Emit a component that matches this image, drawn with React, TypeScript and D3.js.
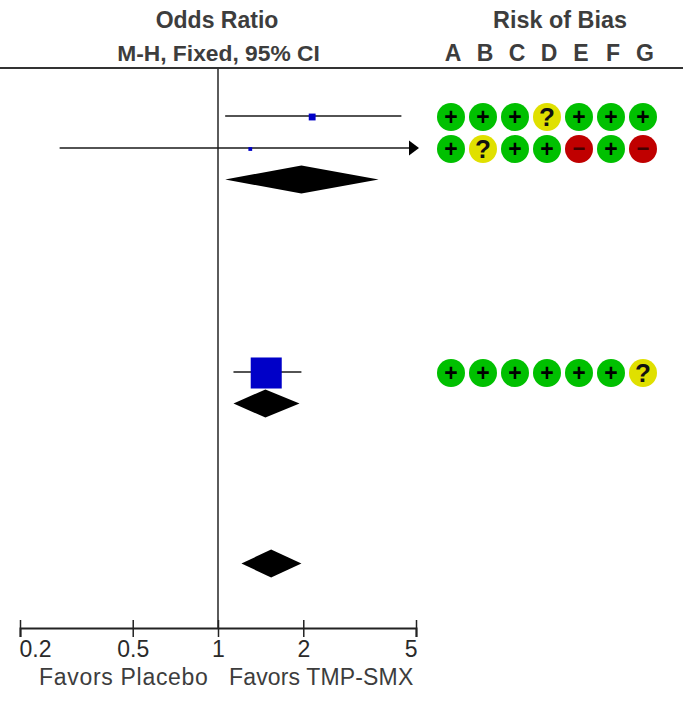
import React, { useEffect, useRef } from "react";
import * as d3 from "d3";

// Rows are the table rows of the original forest plot
const studyRows = [0, 1, 8];
const studyOr = [2.15, 1.3, 1.48];
const studyLow = [1.06, 0.276, 1.134];
const studyHigh = [4.44, 8.5, 1.97];
const studyWeight = [4.6, 1.4, 94];

const totalRows = [2, 9, 14];
const totalOr = [1.97, 1.47, 1.54];
const totalLow = [1.06, 1.134, 1.21];
const totalHigh = [3.69, 1.94, 1.97];

const riskColumns = ["A", "B", "C", "D", "E", "F", "G"];
const riskRows = [0, 1, 8];
const riskValues = [
  ["+", "+", "+", "?", "+", "+", "+"],
  ["+", "?", "+", "+", "-", "+", "-"],
  ["+", "+", "+", "+", "+", "+", "?"],
];

const axisTicks = [0.2, 0.5, 1, 2, 5];
const lastRow = 14;

const font = "'Liberation Sans', Arial, sans-serif";
const textColor = "#3d3d3d";
const riskFill: Record<string, string> = { "+": "#00c000", "?": "#e0e000", "-": "#c00000" };

const App = () => {
  const axisRef = useRef<SVGGElement>(null);

  const width = 683;
  const height = 709;
  const axisY = 628;

  const x = d3.scaleLog().domain([0.2, 5]).range([20, 416]);
  const y = d3.scaleLinear().domain([0, lastRow]).range([116, 564]);
  const col = d3.scalePoint().domain(riskColumns).range([451, 643]);
  const boxSide = d3.scaleSqrt().domain([0, 100]).range([0, 32]);

  const diamond = (i: number) => {
    const cy = y(totalRows[i]);
    return d3.line()([
      [x(totalLow[i]), cy - 0.5],
      [x(totalOr[i]), cy - 14.5],
      [x(totalHigh[i]), cy - 0.5],
      [x(totalOr[i]), cy + 13.5],
    ]) + "Z";
  };

  useEffect(() => {
    const axis = d3.select(axisRef.current);
    axis
      .attr("transform", "translate(0," + axisY + ")")
      .call(
        d3.axisBottom(x)
          .tickValues(axisTicks)
          .tickSize(9)
          .tickFormat((d) => String(d)) as any
      );
    axis.select(".domain").attr("stroke", "#222").attr("stroke-width", 2);
    axis.selectAll(".tick line").attr("y1", -8).attr("stroke", "#222").attr("stroke-width", 1.5);
    axis.selectAll(".tick text")
      .attr("y", 13)
      .attr("font-family", font)
      .attr("font-size", 23)
      .attr("fill", "#2a2a2a");
    // end labels sit inside the axis
    axis.selectAll(".tick text").filter((d) => d === 0.2).attr("text-anchor", "start").attr("dx", -1);
    axis.selectAll(".tick text").filter((d) => d === 5).attr("text-anchor", "end").attr("dx", 1);
  }, []);

  const clampX = (v: number) => Math.min(x(v), x.range()[1]);

  return (
    <svg
      width={width}
      height={height}
      style={{ position: "absolute", left: 0, top: 0, background: "#fff" }}
    >
      <g fontFamily={font} fontSize={23} fontWeight="bold" fill={textColor} textAnchor="middle">
        <text x={217} y={28}>Odds Ratio</text>
        <text x={218.5} y={61} fontSize={22.8}>M-H, Fixed, 95% CI</text>
        <text x={560} y={28} fontSize={23.4}>Risk of Bias</text>
        {riskColumns.map((c) => (
          <text key={c} x={(col(c) as number) + 2} y={61}>{c}</text>
        ))}
      </g>

      <line x1={0} x2={width} y1={68} y2={68} stroke="#333" strokeWidth={2} />
      <line x1={x(1)} x2={x(1)} y1={68} y2={axisY} stroke="#333" strokeWidth={1.6} />

      {studyRows.map((row, i) => {
        const cy = y(row);
        const side = boxSide(studyWeight[i]);
        const clipped = x(studyHigh[i]) > x.range()[1];
        return (
          <g key={row}>
            <line x1={x(studyLow[i])} x2={clampX(studyHigh[i])} y1={cy} y2={cy} stroke="#1a1a1a" strokeWidth={1.7} />
            {clipped && (
              <path d={d3.line()([[409, cy - 7.5], [419, cy], [409, cy + 7.5]]) + "Z"} fill="#000" />
            )}
            <rect x={x(studyOr[i]) - side / 2} y={cy - side / 2 + 1} width={side} height={side} fill="#0000c8" />
          </g>
        );
      })}

      {totalRows.map((row, i) => (
        <path key={row} d={diamond(i)} fill="#000" />
      ))}

      {riskRows.map((row, r) =>
        riskValues[r].map((v, c) => {
          const cx = col(riskColumns[c]) as number;
          const cy = y(row) + 1;
          return (
            <g key={c} textAnchor="middle" fontFamily={font} fontWeight="bold">
              <circle cx={cx} cy={cy} r={14} fill={riskFill[v]} />
              {v === "+" && <text x={cx} y={cy + 8} fontSize={23} fill="#000">+</text>}
              {v === "?" && <text x={cx} y={cy + 9} fontSize={26} fill="#111">?</text>}
              {v === "-" && <text x={cx} y={cy + 7} fontSize={22} fill="#400">−</text>}
            </g>
          );
        })
      )}

      <g ref={axisRef} />

      <g fontFamily={font} fontSize={23} fill={textColor}>
        <text x={39} y={685} letterSpacing={0.7}>Favors Placebo</text>
        <text x={229} y={685} letterSpacing={0.15}>Favors TMP-SMX</text>
      </g>
    </svg>
  );
};

export default App;
